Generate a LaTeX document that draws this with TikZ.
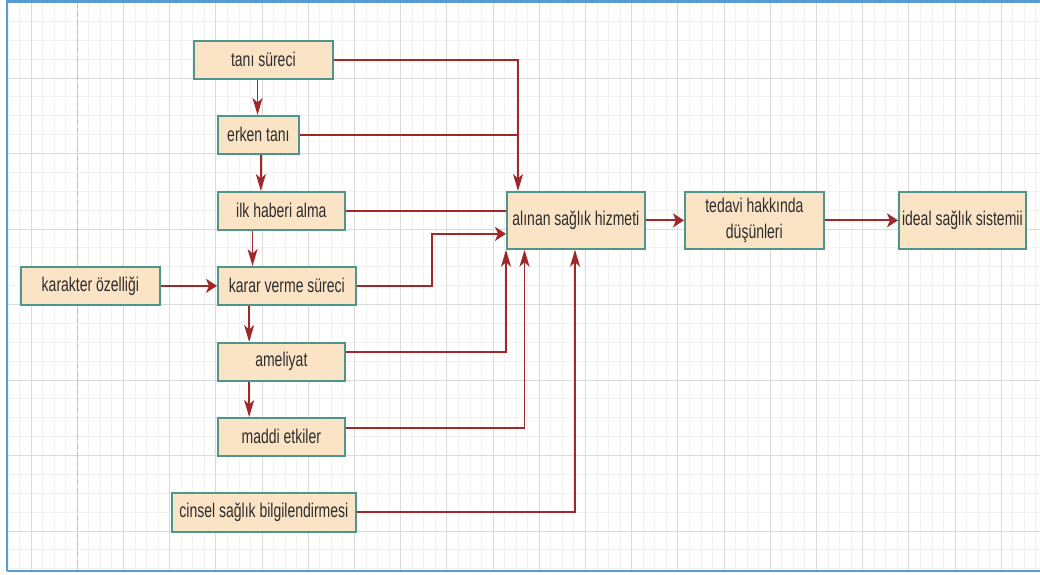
\documentclass[tikz,border=0pt]{standalone}
\usepackage{fontspec}
\usepackage{graphicx}
\setmainfont{Liberation Sans}
\usetikzlibrary{arrows.meta}
\definecolor{boxfill}{RGB}{251,228,197}
\definecolor{boxline}{RGB}{78,150,140}
\definecolor{arrc}{RGB}{160,40,40}
\definecolor{txt}{RGB}{45,45,45}
\definecolor{gmin}{RGB}{241,241,241}
\definecolor{gmaj}{RGB}{218,218,218}
\definecolor{framec}{RGB}{91,155,213}
\definecolor{dashc}{RGB}{190,190,190}
\newcommand{\stx}[1]{\scalebox{1}[1.42]{#1}}
\begin{document}
\begin{tikzpicture}[x=1pt,y=-1pt,
  box/.style={draw=boxline, line width=1.7pt, fill=boxfill, inner sep=0pt, anchor=north west,
    text=txt, font=\fontsize{14}{18.3}\selectfont},
  link/.style={draw=arrc, line width=1.8pt},
  harr/.style={link, -{Stealth[length=11pt,width=14pt,inset=3pt]}},
  varr/.style={link, -{Stealth[length=17pt,width=10pt,inset=4.5pt]}},
  gridminor/.style={draw=gmin, line width=0.8pt},
  gridmajor/.style={draw=gmaj, line width=1pt},
  framestyle/.style={draw=framec, line width=2.5pt},
  dashline/.style={draw=dashc, line width=1pt, dash pattern=on 6pt off 3pt},
]
\useasboundingbox (0,0) rectangle (1040,574);
\fill[white] (0,0) rectangle (1040,574);
% grid
\begin{scope}
\clip (7,1.5) rectangle (1040,571);
\foreach \i in {-6,...,83} {\draw[gridminor] ({77.2+11.55*\i},0) -- ({77.2+11.55*\i},574);}
\foreach \j in {0,...,30} {\draw[gridminor] (0,{2.5+18.875*\j}) -- (1040,{2.5+18.875*\j});}
\foreach \i in {-1,...,21} {\draw[gridmajor] ({77.2+46.2*\i},0) -- ({77.2+46.2*\i},574);}
\foreach \j in {0,...,7} {\draw[gridmajor] (0,{2.5+75.5*\j}) -- (1040,{2.5+75.5*\j});}
\draw[dashline] (77.8,1.5) -- (77.8,571);
\end{scope}
% frame
\draw[framestyle] (7,571) -- (7,1.5) -- (1040,1.5);
\draw[framestyle] (7,571) -- (1040,571);

% nodes
\node[box, minimum width=139pt, minimum height=38pt] (tani) at (193,40) {\stx{tanı süreci}};
\node[box, minimum width=81pt, minimum height=38pt] (erken) at (217,115) {\stx{erken tanı}};
\node[box, minimum width=127pt, minimum height=38pt] (ilk) at (217,191) {\stx{ilk haberi alma}};
\node[box, minimum width=139pt, minimum height=38pt] (karakter) at (20,266) {\stx{karakter özelliği}};
\node[box, minimum width=138pt, minimum height=38pt] (karar) at (217,266) {\stx{karar verme süreci}};
\node[box, minimum width=127pt, minimum height=38pt] (ameliyat) at (217,342) {\stx{ameliyat}};
\node[box, minimum width=127pt, minimum height=38pt] (maddi) at (217,417) {\stx{maddi etkiler}};
\node[box, minimum width=184pt, minimum height=39pt] (cinsel) at (171,492) {\stx{cinsel sağlık bilgilendirmesi}};
\node[box, minimum width=138pt, minimum height=57pt] (alinan) at (506,191) {\stx{alınan sağlık hizmeti}};
\node[box, minimum width=139pt, minimum height=57pt] (tedavi) at (684,191)
  {\stx{\begin{tabular}{@{}c@{}}tedavi hakkında\\düşünleri\end{tabular}}};
\node[box, minimum width=127pt, minimum height=57pt] (ideal) at (898,191) {\stx{ideal sağlık sistemii}};

\coordinate (tojoin) at ([xshift=12pt]alinan.north west);

% vertical chain
\draw[varr] ([xshift=-5.8pt]tani.south) -- ([xshift=-5.8pt]tani.south |- erken.north);
\draw[varr] ([xshift=2.5pt]erken.south) -- ([xshift=2.5pt]erken.south |- ilk.north);
\draw[varr] ([xshift=-28.8pt]ilk.south) -- ([xshift=-28.8pt]ilk.south |- karar.north);
\draw[varr] ([xshift=-37.7pt]karar.south) -- ([xshift=-37.7pt]karar.south |- ameliyat.north);
\draw[varr] ([xshift=-32.2pt]ameliyat.south) -- ([xshift=-32.2pt]ameliyat.south |- maddi.north);
\draw[harr] (karakter.east) -- (karakter.east -| karar.west);

% into alinan
\draw[varr] (tani.east) -| (tojoin);
\draw[link] (erken.east) -- (erken.east -| tojoin);
\draw[link] (ilk.east) -- (ilk.east -| alinan.west);
\draw[harr] (karar.east) -- ++(75pt,0) |- ([yshift=-13.5pt]alinan.west);
\draw[varr] ([yshift=9.5pt]ameliyat.east) -| (alinan.south west);
\draw[varr] ([yshift=9pt]maddi.east) -| ([xshift=18.5pt]alinan.south west);
\draw[varr] (cinsel.east) -| ([xshift=69pt]alinan.south west);

% right chain
\draw[harr] (alinan.east) -- (tedavi.west);
\draw[harr] (tedavi.east) -- (ideal.west);
\end{tikzpicture}
\end{document}
